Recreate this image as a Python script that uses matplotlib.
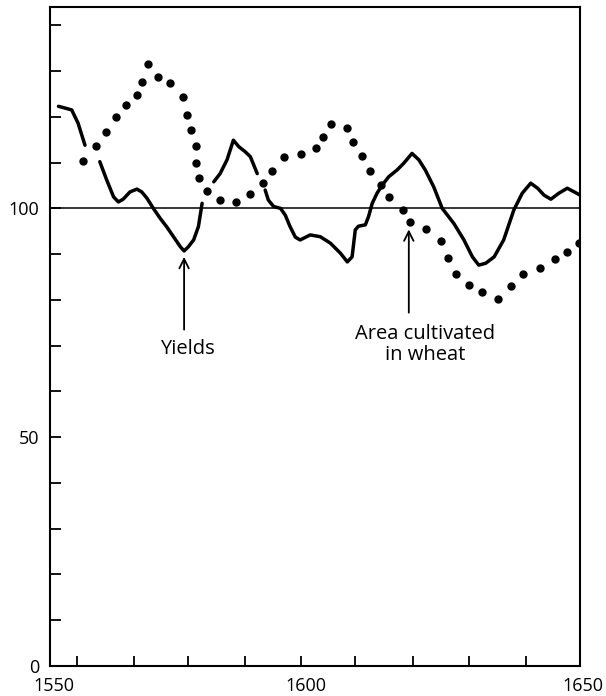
import numpy as np
import matplotlib
matplotlib.use("Agg")
import matplotlib.pyplot as plt
import matplotlib.transforms as mtransforms
from matplotlib.ticker import FixedLocator, FuncFormatter

plt.rcParams['font.family'] = ['Open Sans', 'DejaVu Sans']

# Yields (solid line); NaN marks pen lifts where the dotted series crosses
yield_years = [1551.6, 1553.2, 1554.1, 1555.3, 1556.3, 1556.6, np.nan,
               1559.4, 1560.7, 1562.0, 1562.9, 1563.8, 1565.1, 1566.4, 1567.3,
               1568.3, 1569.5, 1570.8, 1572.0, 1573.3, 1574.6, 1575.3, 1576.1,
               1577.1, 1578.0, 1578.7, np.nan,
               1580.9, 1582.1, 1583.4, 1584.6, 1585.6, 1586.8, 1587.8, 1589.1, np.nan,
               1590.6, 1591.2, 1592.2, 1593.5, 1594.4, 1595.3, 1596.3, 1597.2,
               1599.1, 1601.0, 1602.9, 1604.8, 1606.1, 1607.0, 1607.6, 1608.2,
               1609.5, 1610.1, 1610.8, 1611.7, 1612.7, 1613.9, 1615.5, 1616.7,
               1618.3, 1619.6, 1620.8, 1622.4, 1624.0, 1626.2, 1628.1, 1629.7,
               1630.9, 1632.2, 1633.8, 1635.6, 1637.5, 1639.1, 1640.7, 1642.0,
               1643.2, 1644.5, 1646.0, 1647.6, 1648.9, 1650.0]
yield_values = [122.3, 121.8, 121.5, 118.6, 114.9, 113.8, np.nan,
                110.2, 106.2, 102.5, 101.4, 102.0, 103.6, 104.2, 103.6,
                102.2, 100.0, 97.8, 96.0, 93.8, 91.6, 90.7, 91.6,
                93.1, 96.0, 101.1, np.nan,
                105.8, 107.6, 110.6, 114.9, 113.5, 112.4, 111.3, 107.6, np.nan,
                104.0, 101.8, 100.4, 100.0, 98.5, 96.0, 93.7, 93.1,
                94.2, 93.8, 92.4, 90.2, 88.3, 89.4, 95.3, 96.1,
                96.4, 98.2, 101.1, 103.3, 105.1, 106.9, 108.4, 109.8,
                112.0, 110.6, 108.4, 104.7, 100.0, 96.7, 93.1, 89.4,
                87.6, 88.0, 89.4, 93.1, 99.6, 103.3, 105.5, 104.4,
                102.9, 102.0, 103.3, 104.4, 103.6, 102.9]

# Area cultivated in wheat (dotted series)
area_years = [1556.3, 1558.6, 1560.5, 1562.5, 1564.4, 1566.4, 1567.4, 1568.5,
              1570.4, 1572.7, 1575.0, 1575.9, 1576.6, 1577.5, 1577.6, 1578.2,
              1579.6, 1582.0, 1585.0, 1587.8, 1590.1, 1591.9, 1594.1, 1597.4,
              1600.1, 1601.6, 1603.0, 1606.1, 1607.1, 1608.9, 1610.3, 1612.5,
              1614.0, 1616.6, 1617.9, 1621.0, 1623.7, 1625.0, 1626.6, 1629.0,
              1631.6, 1634.6, 1636.9, 1639.2, 1642.4, 1645.2, 1647.6, 1649.8]
area_values = [110.3, 113.7, 116.7, 119.9, 122.6, 124.8, 127.7, 131.5,
               128.8, 127.4, 124.4, 120.3, 117.1, 113.7, 110.0, 106.6,
               103.8, 101.8, 101.4, 103.1, 105.5, 108.1, 111.2, 111.9,
               113.2, 115.6, 118.4, 117.5, 114.4, 111.4, 108.2, 105.1,
               102.5, 99.6, 97.1, 95.4, 92.8, 89.1, 85.6, 83.2,
               81.8, 80.2, 83.0, 85.6, 87.0, 88.9, 90.4, 92.5]

x_minor_ticks = [1555.1, 1565.9, 1576.0, 1586.7, 1597.4, 1607.6, 1618.5, 1629.1, 1639.8]
x_labels = [1550, 1600, 1650]
y_ticks = [0, 10, 20, 30, 40, 50, 60, 70, 80, 90, 100, 110, 120, 130, 140]
y_labels = [0, 50, 100]
reference_level = 100

yields_label = "Yields"
yields_arrow = (1575.3, 89.4, 73.5)   # x, tip value, tail value
yields_text = (1576.0, 69.2)
area_label = "Area cultivated\nin wheat"
area_arrow = (1617.7, 95.4, 77.2)
area_text = (1620.8, 70.3)

fig = plt.figure(figsize=(6.06, 6.96), dpi=100)
ax = fig.add_axes([50/606, 30/696, 530/606, 659/696])

ax.set_xlim(1550, 1650)
ax.set_ylim(0, 144)

ax.axhline(reference_level, color='black', lw=1.1, zorder=1)
ax.plot(yield_years, yield_values, color='black', lw=2.5,
        solid_capstyle='round', solid_joinstyle='round', zorder=3)
ax.plot(area_years, area_values, linestyle='none', marker='o', ms=5,
        color='black', zorder=3)

for side in ['left', 'right', 'top', 'bottom']:
    ax.spines[side].set_linewidth(1.5)

ax.xaxis.set_major_locator(FixedLocator(x_labels))
ax.xaxis.set_minor_locator(FixedLocator(x_minor_ticks))
ax.set_xticklabels([str(v) for v in x_labels])
ax.tick_params(axis='x', which='major', length=0, pad=8, labelsize=13)
ax.tick_params(axis='x', which='minor', direction='in', length=7, width=1.3)

# small horizontal nudges of the hand-lettered year labels
label_nudges = [4, -9, 3]
for lab, dx in zip(ax.get_xticklabels(), label_nudges):
    lab.set_transform(lab.get_transform() +
                      mtransforms.ScaledTranslation(dx / 100, 0, fig.dpi_scale_trans))

ax.yaxis.set_major_locator(FixedLocator(y_ticks))
ax.yaxis.set_major_formatter(FuncFormatter(lambda v, p: f"{int(v)}" if int(v) in y_labels else ""))
ax.tick_params(axis='y', which='major', direction='in', length=8, width=1.3,
               pad=8, labelsize=13)

arrow_kw = dict(arrowstyle='->', lw=1.3, color='black', shrinkA=0, shrinkB=0,
                mutation_scale=17)
ax.annotate('', xy=(yields_arrow[0], yields_arrow[1]),
            xytext=(yields_arrow[0], yields_arrow[2]), arrowprops=arrow_kw)
ax.text(yields_text[0], yields_text[1], yields_label, ha='center', va='center',
        fontsize=14.5)
ax.annotate('', xy=(area_arrow[0], area_arrow[1]),
            xytext=(area_arrow[0], area_arrow[2]), arrowprops=arrow_kw)
ax.text(area_text[0], area_text[1], area_label, ha='center', va='center',
        fontsize=14.5, linespacing=1.1)

fig.savefig("out.png", dpi=100)
